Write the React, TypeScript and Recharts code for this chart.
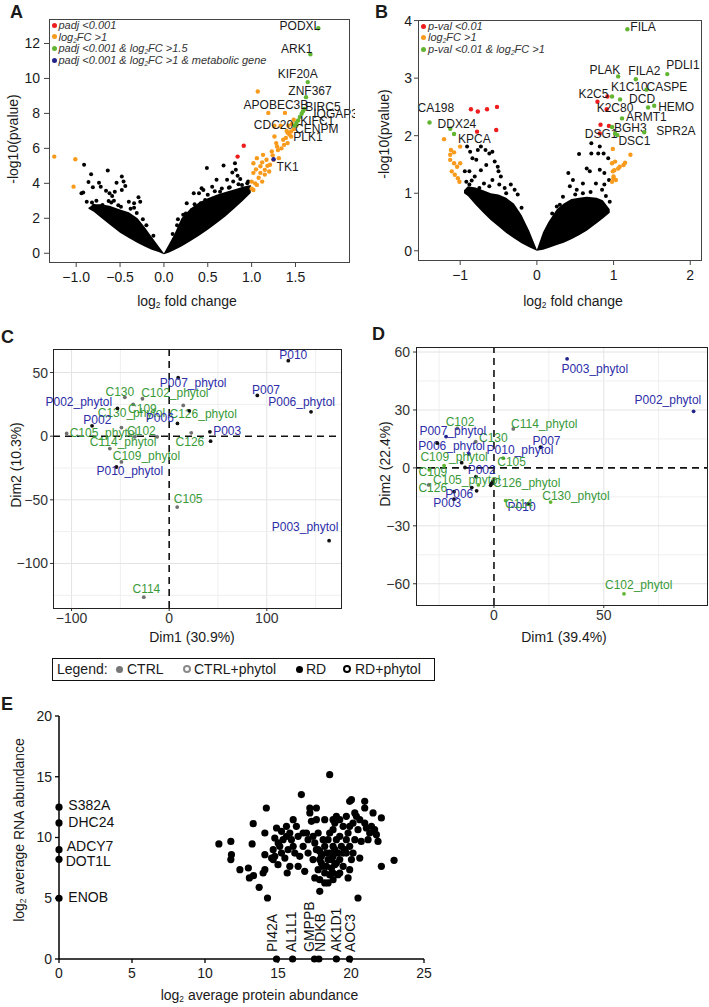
import { ComposedChart, ScatterChart, Scatter, Area, XAxis, YAxis, ReferenceLine } from "recharts";

const FONT = "'Liberation Sans', Arial, Helvetica, sans-serif";
const RED = "#ee1c1c";
const ORANGE = "#f89a1c";
const GREEN = "#62b530";
const NAVY = "#23238e";
const LBL_GREEN = "#3a9a3a";
const LBL_BLUE = "#2d2da8";
const GREY = "#707070";

// ---------- A: RNA volcano ----------
// dense black cloud: [log2FC, low, high]
const A_CLOUD = [
  [-0.86, 2.55, 2.6], [-0.8, 2.38, 2.8], [-0.72, 2.05, 2.8], [-0.62, 1.65, 2.72], [-0.5, 1.18, 2.5],
  [-0.4, 0.88, 2.35], [-0.3, 0.58, 2.0], [-0.22, 0.38, 1.5], [-0.14, 0.2, 0.95], [-0.06, 0.07, 0.4],
  [0, -0.05, 0], [0.06, 0.05, 0.55], [0.12, 0.18, 1.1], [0.2, 0.38, 2.0], [0.3, 0.68, 2.55],
  [0.4, 1.0, 2.9], [0.5, 1.35, 3.15], [0.6, 1.72, 3.35], [0.7, 2.1, 3.5], [0.8, 2.55, 3.65],
  [0.9, 3.0, 3.8], [0.99, 3.45, 3.9],
];
const A_BLACK = [
  [-0.91, 5.06], [-0.83, 4.52], [-0.64, 4.73], [-0.86, 4.08], [-0.81, 3.78], [-0.74, 4.04], [-0.72, 3.81],
  [-0.94, 3.43], [-0.92, 3.47], [-0.88, 2.95], [-0.8, 2.72], [-0.7, 2.76], [-0.66, 3.58], [-0.62, 3.43],
  [-0.59, 3.28], [-0.63, 2.99], [-0.57, 3.0], [-0.48, 4.39], [-0.46, 4.1], [-0.44, 3.85], [-0.54, 4.04],
  [-0.56, 3.52], [-0.48, 3.62], [-0.4, 2.95], [-0.34, 2.86], [-0.29, 3.2], [-0.27, 2.95], [-0.34, 2.6],
  [-0.49, 2.66], [-0.82, 2.9], [-0.77, 3.0], [-0.6, 2.9], [-0.52, 2.75], [-0.38, 2.55], [-0.31, 2.3],
  [-0.24, 1.95], [-0.2, 1.6], [-0.12, 1.0],
  [0.49, 4.87], [0.45, 3.62], [0.4, 3.43], [0.16, 1.94], [0.25, 2.28], [0.32, 2.47], [0.68, 5.02],
  [0.81, 5.15], [0.82, 4.77], [0.84, 4.43], [0.78, 4.62], [0.72, 4.2], [0.6, 4.2], [0.55, 3.81],
  [0.43, 3.72], [0.34, 3.43], [0.47, 3.05], [0.64, 3.52], [0.75, 3.78], [0.79, 4.1], [0.89, 3.91],
  [0.93, 3.66], [0.96, 4.1], [0.87, 4.25], [0.26, 2.86], [0.42, 2.86], [0.1, 1.1], [0.15, 1.6],
  [0.22, 2.2], [0.35, 2.8], [0.5, 3.35], [0.58, 3.55], [0.66, 3.7], [0.74, 3.75], [0.85, 3.95], [0.95, 4.0],
];
const A_ORANGE = [
  [-1.25, 5.53], [-1.01, 5.38], [-1.03, 3.81],
  [1.07, 9.25], [1.19, 8.03], [1.38, 8.03], [1.33, 7.3], [1.42, 7.3], [1.48, 7.64], [1.45, 6.97],
  [1.41, 6.9], [1.36, 6.49], [1.26, 6.68], [1.29, 6.11], [1.34, 6.0], [1.23, 5.82], [1.13, 5.63],
  [1.06, 5.44], [1.17, 5.35], [1.02, 5.15], [1.1, 4.98], [1.15, 4.77], [1.21, 5.06], [1.02, 4.6],
  [1.08, 4.32], [1.15, 4.5], [1.2, 4.68], [1.0, 4.1], [1.06, 3.91], [1.02, 3.62], [1.12, 4.1],
  [1.25, 5.35], [1.31, 5.44], [1.41, 6.3], [1.45, 6.68], [1.48, 7.1], [1.51, 7.3], [1.46, 7.4],
  [1.26, 7.3], [1.0, 3.7], [1.04, 4.0], [1.1, 4.6], [1.18, 5.0], [1.24, 5.6], [1.3, 5.9], [1.37, 6.2],
  [1.39, 6.6], [1.43, 6.8], [1.05, 4.8], [1.12, 5.2], [1.28, 6.3], [1.4, 7.0],
];
const A_RED = [[0.91, 6.15], [0.84, 5.53]];
const A_BLUE: [string, number, number][] = [["TK1", 1.25, 5.38]];
const A_GREEN: [string, number, number][] = [
  ["PODXL", 1.76, 12.87], ["ARK1", 1.67, 11.38], ["KIF20A", 1.64, 9.79], ["ZNF367", 1.62, 8.93],
  ["APOBEC3B", 1.6, 8.25], ["BIRC5", 1.585, 8.12], ["IQGAP3", 1.57, 7.98], ["KIFC1", 1.55, 7.8],
  ["CENPM", 1.53, 7.6], ["PLK1", 1.51, 7.45], ["CDC20", 1.49, 7.3],
];
const A_XTICKS = [-1, -0.5, 0, 0.5, 1, 1.5];
const A_YTICKS = [0, 2, 4, 6, 8, 10, 12];

// ---------- B: protein volcano ----------
const B_CLOUD = [
  [-0.95, 1.0, 1.05], [-0.9, 0.95, 1.12], [-0.8, 0.8, 1.1], [-0.7, 0.66, 1.05], [-0.6, 0.53, 1.0],
  [-0.5, 0.42, 0.98], [-0.4, 0.31, 0.92], [-0.3, 0.22, 0.82], [-0.2, 0.13, 0.62], [-0.1, 0.06, 0.35],
  [0, 0, 0.02], [0.08, 0.02, 0.32], [0.15, 0.05, 0.5], [0.26, 0.1, 0.72], [0.35, 0.14, 0.82],
  [0.45, 0.2, 0.9], [0.55, 0.27, 0.92], [0.65, 0.35, 0.94], [0.78, 0.48, 0.92], [0.86, 0.56, 0.88],
  [0.95, 0.66, 0.72],
];
const B_BLACK = [
  [-0.91, 1.81], [-0.87, 1.72], [-0.77, 1.75], [-0.73, 1.81], [-0.67, 1.75], [-0.62, 1.69], [-0.58, 1.72],
  [-0.84, 1.61], [-0.79, 1.58], [-0.88, 1.38], [-0.94, 1.38], [-0.81, 1.29], [-0.73, 1.4], [-0.66, 1.49],
  [-0.55, 1.55], [-0.5, 1.38], [-0.58, 1.23], [-0.49, 1.15], [-0.42, 1.09], [-0.34, 1.15], [-0.29, 1.06],
  [-0.25, 0.98], [-0.47, 1.29], [-0.69, 1.17], [-0.75, 1.09], [-0.88, 1.15], [-0.51, 1.46], [-0.92, 1.2],
  [-0.85, 1.22], [-0.62, 1.12], [-0.4, 1.0], [-0.2, 0.75],
  [0.71, 1.87], [0.82, 1.81], [0.71, 1.69], [0.8, 1.69], [0.55, 1.68], [0.93, 1.61], [0.87, 1.69],
  [0.65, 1.43], [0.69, 1.38], [0.82, 1.41], [0.88, 1.35], [0.41, 1.35], [0.47, 1.23], [0.6, 1.17],
  [0.77, 1.17], [0.88, 1.15], [0.43, 1.12], [0.34, 0.94], [0.52, 1.06], [0.85, 1.06], [0.94, 1.23],
  [0.26, 0.77], [0.2, 0.65], [0.3, 0.8], [0.5, 0.98], [0.6, 1.0], [0.7, 1.02], [0.9, 0.95], [0.95, 0.85],
];
const B_ORANGE = [
  [-1.21, 1.94], [-1.0, 1.81], [-1.12, 1.75], [-1.13, 1.67], [-1.08, 1.71], [-1.13, 1.58], [-1.08, 1.52],
  [-1.04, 1.46], [-1.0, 1.52], [-1.11, 1.38], [-1.07, 1.32], [-1.03, 1.26], [-1.01, 1.2],
  [0.99, 1.77], [1.22, 1.67], [0.98, 1.52], [1.02, 1.55], [1.08, 1.46], [1.13, 1.49], [1.15, 1.53],
  [1.06, 1.43], [0.99, 1.38], [1.01, 1.4], [1.0, 1.26], [1.03, 1.23], [0.98, 1.2], [1.0, 1.29],
];
const B_RED: [string, number, number][] = [
  ["", -0.86, 2.46], ["", -0.77, 2.42], ["", -0.65, 2.46], ["", -0.52, 2.5], ["", -0.78, 2.07], ["", -0.53, 2.1],
  ["K2C5", 0.92, 2.68], ["", 0.79, 2.59], ["K2C80", 0.91, 2.46], ["", 0.83, 2.19], ["", 0.94, 2.17], ["DSG1", 0.82, 2.04],
];
const B_GREEN: [string, number, number][] = [
  ["CA198", -1.4, 2.23], ["DDX24", -1.13, 2.12], ["KPCA", -1.08, 2.03], ["FILA", 1.18, 3.85],
  ["PLAK", 1.06, 3.03], ["FILA2", 1.29, 2.98], ["PDLI1", 1.7, 3.07], ["K1C10", 0.98, 2.68],
  ["CASPE", 1.43, 2.8], ["DCD", 1.085, 2.63], ["", 1.45, 2.49], ["HEMO", 1.53, 2.52],
  ["ARMT1", 1.11, 2.3], ["BGH3", 0.98, 2.15], ["", 1.02, 2.04], ["DSC1", 1.05, 2.01], ["SPR2A", 1.4, 2.06],
];
const B_XTICKS = [-1, 0, 1, 2];
const B_YTICKS = [0, 1, 2, 3, 4];

// ---------- C: PCA (RNA) ----------
const C_RD: [string, number, number][] = [
  ["P010", 122, 59.3], ["P007", 90.3, 32], ["P006_phytol", 145.3, 19.1], ["P003_phytol", 163.8, -82.1],
  ["P003", 41.7, 3.4], ["P006", 8.5, 10], ["P007_phytol", 9.2, 45.9], ["P002_phytol", -53, 21.8],
  ["P002", -79, 8.1], ["P010_phytol", -54, -24.2], ["", 42.4, -3.9], ["", 20.5, 19.9],
];
const C_CTRL: [string, number, number][] = [
  ["C130", -45.4, 30.5], ["C102_phytol", -27.4, 29.4], ["C109", -36.9, 25], ["C130_phytol", -48.9, 6.8],
  ["C126_phytol", 14.4, 24.2], ["C105_phytol", -105, 2.1], ["C102", -35.2, -0.5], ["C114_phytol", -60.8, -9.7],
  ["C109_phytol", -48.9, -20.2], ["C126", 22.6, 2.6], ["C105", 8.2, -55.7], ["C114", -26, -126.5], ["", -12.3, -0.5],
];
const C_XTICKS = [-100, 0, 100];
const C_YTICKS = [-100, -50, 0, 50];
const C_GRID_X = [-100, -50, 50, 100, 150];
const C_GRID_Y = [-125, -100, -75, -50, -25, 25, 50];

// ---------- D: PCA (protein) ----------
const D_PTS: [string, number, number][] = [
  ["P003_phytol", 33.3, 56.5], ["P002_phytol", 90.9, 29.3], ["C102_phytol", 59.2, -65.2], ["C130_phytol", 25.8, -17.7],
  ["P010", 15.6, -18.6], ["C114_phytol", 8.8, 20.2], ["P007", 21.2, 10.7], ["P010_phytol", -0.5, -7],
  ["C130", -8.3, 13.6], ["C105", 4.2, 5.0], ["C102", -16.7, 20.5], ["P007_phytol", -21.8, 16.2],
  ["P006_phytol", -11.4, 7.2], ["C109_phytol", -22.7, 1.2], ["C109", -29.5, -1], ["C126", -29.7, -8.8],
  ["P003", -18.2, -16.2], ["P006", -18.2, -12.3], ["P002", -8.2, -4.5], ["C105_phytol", -7.1, -8.8],
  ["C126_phytol", -1, -7.9], ["C114", 5.3, -16.9], ["", -25.8, 12.8], ["", -14.7, 2.7], ["", -13.2, 0.2],
  ["", -10.1, -10.2], ["", -7.9, -11.9], ["", -1.5, -9],
];
const D_XTICKS = [0, 50];
const D_YTICKS = [-60, -30, 0, 30, 60];
const D_GRID_X = [-25, 25, 50, 75];
const D_GRID_Y = [-60, -45, -30, -15, 15, 30, 45, 60];

// ---------- E: protein vs RNA abundance ----------
const E_NO_PROTEIN: [string, number, number][] = [
  ["S382A", 0, 12.5], ["DHC24", 0, 11.2], ["ADCY7", 0, 9.0], ["DOT1L", 0, 8.2], ["ENOB", 0, 5.0],
];
const E_NO_RNA: [string, number, number][] = [
  ["PI42A", 14.9, 0], ["AL1L1", 16.0, 0], ["GMPPB", 17.5, 0], ["NDKB", 17.8, 0], ["AK1D1", 19.0, 0], ["AOC3", 19.9, 0],
];
const E_BOTH = [
  [10.95, 9.47], [11.77, 9.68], [11.81, 8.59], [11.77, 8.18], [12.39, 7.35], [12.97, 7.49], [13.04, 6.67],
  [13.32, 6.86], [13.23, 9.47], [13.3, 11.14], [13.71, 5.9], [13.98, 7.08], [14.1, 7.35], [14.2, 12.43],
  [14.1, 10.37], [14.1, 8.59], [14.28, 5.02], [14.67, 9.0], [14.78, 9.96], [14.56, 8.31], [14.9, 10.78],
  [15.12, 9.27], [15.0, 7.76], [15.24, 8.72], [15.35, 9.82], [15.58, 10.92], [15.47, 8.31], [15.69, 9.0],
  [15.81, 7.63], [15.63, 7.08], [15.92, 9.82], [16.04, 11.47], [16.26, 10.92], [16.15, 8.72], [16.38, 7.63],
  [16.49, 8.45], [16.6, 13.53], [16.72, 9.27], [16.83, 7.22], [16.95, 10.37], [17.06, 8.72], [17.18, 12.02],
  [17.29, 11.33], [17.18, 12.43], [17.52, 9.55], [17.4, 8.18], [17.63, 12.43], [17.75, 10.37], [17.52, 6.67],
  [17.86, 8.86], [17.75, 7.35], [17.97, 7.9], [17.86, 5.57], [18.09, 9.82], [18.2, 11.47], [18.32, 8.72],
  [18.2, 7.08], [18.43, 6.26], [18.54, 15.17], [18.54, 10.37], [18.66, 8.18], [18.77, 9.27], [18.77, 7.08],
  [18.89, 11.19], [19.0, 7.9], [19.11, 8.72], [19.23, 11.47], [19.23, 10.1], [19.11, 6.94], [19.34, 9.27],
  [19.46, 10.92], [19.68, 11.74], [19.68, 8.72], [19.8, 10.37], [19.8, 6.67], [19.91, 12.98], [20.03, 13.11],
  [19.91, 7.35], [20.14, 11.19], [20.14, 8.72], [20.26, 9.82], [20.37, 11.74], [20.48, 5.02], [20.6, 8.31],
  [20.48, 10.64], [20.94, 12.98], [20.94, 12.43], [20.94, 11.19], [21.05, 10.78], [21.17, 9.82], [21.51, 12.02],
  [21.62, 10.64], [21.74, 10.23], [21.85, 9.68], [22.08, 11.61], [22.08, 7.63], [22.95, 8.12], [21.4, 10.92],
  [20.7, 9.68], [17.75, 9.0], [17.97, 8.45], [18.09, 7.63], [18.43, 8.18], [18.54, 8.72], [18.66, 7.49],
  [18.89, 9.0], [19.0, 9.82], [18.77, 10.64], [18.43, 9.82], [18.2, 9.27], [17.86, 8.18], [17.63, 9.0],
  [17.4, 10.1], [17.06, 9.82], [16.72, 10.37], [16.38, 10.1], [16.04, 9.27], [15.81, 10.37], [15.58, 10.1],
  [15.24, 10.51], [15.01, 9.55], [14.78, 8.45], [14.67, 8.18], [18.77, 8.45], [19.23, 8.18], [19.46, 7.63],
  [19.57, 9.0], [19.91, 9.27], [20.03, 8.18], [19.68, 9.82], [19.91, 10.92], [19.46, 8.72], [18.89, 7.76],
  [18.54, 6.94], [18.32, 7.63], [19.23, 7.08], [17.86, 6.53], [18.2, 6.26], [18.77, 6.53], [17.63, 11.47],
  [19.0, 11.74], [20.26, 12.02], [20.6, 11.47], [18.77, 11.47], [21.28, 10.37],
];
const E_XTICKS = [0, 5, 10, 15, 20, 25];
const E_YTICKS = [0, 5, 10, 15, 20];

// label placement, relative to the point: [dx, dy, anchor, rotated]
type Spec = [number, number, string?, boolean?];
const A_LABELS: Record<string, Spec> = {
  PODXL: [2, 2, "end"], ARK1: [2, -1, "end"], KIF20A: [-10, -4.5], ZNF367: [4, -1.8],
  APOBEC3B: [4, 0, "end"], BIRC5: [2.3, -0.5, "start"], IQGAP3: [11.6, 4, "start"], KIFC1: [0.4, 8, "start"],
  CENPM: [-3, 12.4, "start"], PLK1: [-3, 17.8, "start"], CDC20: [-1.4, 3.2, "end"], TK1: [3, 11.5, "start"],
};
const B_LABELS: Record<string, Spec> = {
  FILA: [3, 2, "start"], PLAK: [2, -2, "end"], FILA2: [8.5, -4], PDLI1: [-1, -5, "start"],
  K1C10: [-1, -5.5, "start"], CASPE: [0, 1, "start"], K2C5: [1, 1, "end"], K2C80: [-10, 2.4, "start"],
  DCD: [9, 4, "start"], HEMO: [4, 5, "start"], ARMT1: [4, 3, "start"], BGH3: [2, 4.5, "start"],
  DSG1: [-15, 5, "start"], DSC1: [1, 10, "start"], SPR2A: [12, 2.6, "start"],
  CA198: [-12, -10, "start"], DDX24: [-12.6, -1, "start"], KPCA: [4, 9, "start"],
};
const C_LABELS: Record<string, Spec> = {
  P010: [5, -2], P007: [8.7, -1.7], P006_phytol: [-9.4, -5.7], P003_phytol: [-24, -9.3], P003: [17.3, 3.3],
  P006: [-17.6, -1.3], P007_phytol: [15, 8.9], P002_phytol: [-38.6, -2.3], P002: [5.3, -2.1],
  P010_phytol: [13.4, 7.6], C130: [-5, -1.3], C102_phytol: [32.4, -1.7], C109: [9.3, 8.3],
  C130_phytol: [10, -10.3], C126_phytol: [20, 12.3], C105_phytol: [36.7, 3.7], C102: [6.6, -1.7],
  C114_phytol: [13.3, -2.3], C109_phytol: [25, -1.4], C126: [-1.3, 13.3], C105: [11, -3.7], C114: [2.6, -4.1],
};
const D_LABELS: Record<string, Spec> = {
  P003_phytol: [27.7, 13.9], P002_phytol: [-25.7, -7.7], C102_phytol: [14.7, -4.7], C130_phytol: [25.3, -2],
  P010: [-6.6, 7.6], C114_phytol: [31, -0.4], P007: [6, -2.3], P010_phytol: [27.1, -27.9], C130: [17.6, 0.3],
  C105: [8.4, 7.7], C102: [2.7, -2.3], P007_phytol: [6.7, -1.7], P006_phytol: [-17.3, -4], C109_phytol: [10, -4.1],
  C109: [3.7, 6], C126: [4, 7.6], P003: [-6.7, 8.3], P006: [5.3, 5.9], P002: [5.7, -2.4],
  C105_phytol: [-11.6, -0.7], C126_phytol: [35, 3.7], C114: [13.3, 7.3],
};
const D_DOT: Record<string, string> = {
  P003_phytol: NAVY, P002_phytol: NAVY, P007_phytol: NAVY, P006_phytol: NAVY,
  C102_phytol: GREEN, C130_phytol: GREEN, C105: GREEN, C109_phytol: GREEN, C109: GREEN,
  C105_phytol: GREEN, C114: GREEN, C114_phytol: GREY, C130: GREY, C102: GREY, C126: GREY,
};
const E_LABELS: Record<string, Spec> = {
  S382A: [9.3, 2.5, "start"], DHC24: [9.3, 4, "start"], ADCY7: [7.7, 1, "start"], DOT1L: [6.7, 6.3, "start"],
  ENOB: [9.3, 4, "start"], PI42A: [0, -7, "start", true], AL1L1: [3, -7, "start", true],
  GMPPB: [-1, -7, "start", true], NDKB: [6, -7, "start", true], AK1D1: [5, -7, "start", true], AOC3: [5, -7, "start", true],
};

const xy = (rows: number[][]) => rows.map(([x, y]) => ({ name: "", x, y }));
const nxy = (rows: [string, number, number][]) => rows.map(([name, x, y]) => ({ name, x, y }));
const cloud = (rows: number[][]) => rows.map(([x, lo, hi]) => ({ x, lo, hi }));
const minus = (s: string) => s.replace("-", "\u2212");

function dotShape(fill: (n: string) => string, r: number, labels: Record<string, Spec> = {}, labelFill: (n: string) => string = () => "#1a1a1a", fontSize = 12) {
  return (p: any) => {
    const { cx, cy, payload } = p;
    if (typeof cx !== "number" || typeof cy !== "number") return <g />;
    const name: string = payload?.name ?? "";
    const s = labels[name];
    const tx = s ? cx + s[0] : 0;
    const ty = s ? cy + s[1] : 0;
    return (
      <g>
        <circle cx={cx} cy={cy} r={r} fill={fill(name)} />
        {s && (
          <text x={tx} y={ty} textAnchor={(s[2] as any) ?? "middle"} fontSize={fontSize} fontFamily={FONT}
            fill={labelFill(name)} transform={s[3] ? `rotate(-90 ${tx} ${ty})` : undefined}>{name}</text>
        )}
      </g>
    );
  };
}

const TICK = { fontSize: 14, fill: "#1a1a1a", fontFamily: FONT };
const TICK_GG = { fontSize: 14, fill: "#333", fontFamily: FONT };

const abs = (l: number, t: number, extra: any = {}) => ({ position: "absolute" as const, left: l, top: t, ...extra });
const Centered = ({ x, y, rot, size = 14, children }: any) => (
  <div style={abs(x, y, { transform: `translate(-50%, -50%)${rot ? " rotate(-90deg)" : ""}`, whiteSpace: "nowrap", fontSize: size, lineHeight: "16px", color: "#1a1a1a" })}>{children}</div>
);
const Sub2 = () => <sub style={{ fontSize: "0.6em", verticalAlign: "-0.25em", lineHeight: 0 }}>2</sub>;
const Letter = ({ x, y, c }: any) => <div style={abs(x, y, { fontSize: 18, fontWeight: 700, lineHeight: "18px" })}>{c}</div>;
const Frame = ({ l, t, w, h, bw = 1, c = "#333" }: any) => (
  <div style={abs(l, t, { width: w, height: h, border: `${bw}px solid ${c}`, boxSizing: "border-box", pointerEvents: "none" })} />
);
const LegRow = ({ x, y, color, children }: any) => (
  <div style={abs(x, y, { display: "flex", alignItems: "center", fontSize: 11, fontStyle: "italic", color: "#333", whiteSpace: "nowrap", lineHeight: "12px" })}>
    <span style={{ width: 5, height: 5, borderRadius: "50%", background: color, marginRight: 2, display: "inline-block" }} />
    <span>{children}</span>
  </div>
);

function VolcanoA() {
  return (
    <ComposedChart width={355} height={300} data={cloud(A_CLOUD)} margin={{ top: 19, right: 6, bottom: 8, left: 15 }}>
      <XAxis type="number" dataKey="x" domain={[-1.31, 2.11]} ticks={A_XTICKS} interval={0} height={30}
        tickFormatter={(v: number) => minus(v.toFixed(1))} axisLine={false} tickSize={5} tickMargin={5} tick={TICK} tickLine={{ stroke: "#444" }} />
      <YAxis type="number" dataKey="y" domain={[-0.5, 13.4]} ticks={A_YTICKS} interval={0} width={34}
        axisLine={false} tickSize={5} tickMargin={4} tick={TICK} tickLine={{ stroke: "#444" }} />
      <Area dataKey={(d: any) => [d.lo, d.hi]} type="linear" stroke="none" fill="#000" fillOpacity={1} dot={false} activeDot={false} isAnimationActive={false} />
      <Scatter data={xy(A_BLACK)} shape={dotShape(() => "#000", 2)} isAnimationActive={false} />
      <Scatter data={xy(A_ORANGE)} shape={dotShape(() => ORANGE, 2.2)} isAnimationActive={false} />
      <Scatter data={xy(A_RED)} shape={dotShape(() => RED, 2.2)} isAnimationActive={false} />
      <Scatter data={nxy(A_BLUE)} shape={dotShape(() => NAVY, 2.2, A_LABELS)} isAnimationActive={false} />
      <Scatter data={nxy(A_GREEN)} shape={dotShape(() => GREEN, 2.2, A_LABELS)} isAnimationActive={false} />
    </ComposedChart>
  );
}

function VolcanoB() {
  return (
    <ComposedChart width={354} height={300} data={cloud(B_CLOUD)} margin={{ top: 20, right: 8, bottom: 10, left: 33 }}>
      <XAxis type="number" dataKey="x" domain={[-1.55, 2.14]} ticks={B_XTICKS} interval={0} height={30}
        tickFormatter={(v: number) => minus(String(v))} axisLine={false} tickSize={5} tickMargin={5} tick={TICK} tickLine={{ stroke: "#444" }} />
      <YAxis type="number" dataKey="y" domain={[-0.16, 4.01]} ticks={B_YTICKS} interval={0} width={30}
        axisLine={false} tickSize={4} tickMargin={2} tick={TICK} tickLine={{ stroke: "#444" }} />
      <Area dataKey={(d: any) => [d.lo, d.hi]} type="linear" stroke="none" fill="#000" fillOpacity={1} dot={false} activeDot={false} isAnimationActive={false} />
      <Scatter data={xy(B_BLACK)} shape={dotShape(() => "#000", 2)} isAnimationActive={false} />
      <Scatter data={xy(B_ORANGE)} shape={dotShape(() => ORANGE, 2.2)} isAnimationActive={false} />
      <Scatter data={nxy(B_RED)} shape={dotShape(() => RED, 2.2, B_LABELS)} isAnimationActive={false} />
      <Scatter data={nxy(B_GREEN)} shape={dotShape(() => GREEN, 2.2, B_LABELS)} isAnimationActive={false} />
    </ComposedChart>
  );
}

const isRD = (n: string) => n.startsWith("P");

function PcaC() {
  return (
    <ScatterChart width={355} height={330} margin={{ top: 39, right: 14, bottom: 7, left: 13 }}>
      <XAxis type="number" dataKey="x" domain={[-119, 176]} ticks={C_XTICKS} interval={0} height={25}
        tickFormatter={(v: number) => minus(String(v))} axisLine={false} tickSize={3} tickMargin={2} tick={TICK_GG} tickLine={{ stroke: "#333" }} />
      <YAxis type="number" dataKey="y" domain={[-135, 68.5]} ticks={C_YTICKS} interval={0} width={40}
        tickFormatter={(v: number) => minus(String(v))} axisLine={false} tickSize={3} tickMargin={2} tick={TICK_GG} tickLine={{ stroke: "#333" }} />
      {C_GRID_X.map((v) => <ReferenceLine key={"gx" + v} x={v} stroke={v % 100 === 0 ? "#e3e3e3" : "#efefef"} strokeWidth={1} />)}
      {C_GRID_Y.map((v) => <ReferenceLine key={"gy" + v} y={v} stroke={v % 50 === 0 ? "#e3e3e3" : "#efefef"} strokeWidth={1} />)}
      <ReferenceLine x={0} stroke="#111" strokeWidth={1.6} strokeDasharray="7 5" />
      <ReferenceLine y={0} stroke="#111" strokeWidth={1.6} strokeDasharray="7 5" />
      <Scatter data={nxy(C_CTRL)} shape={dotShape(() => GREY, 1.9, C_LABELS, () => LBL_GREEN)} isAnimationActive={false} />
      <Scatter data={nxy(C_RD)} shape={dotShape(() => "#111", 1.9, C_LABELS, () => LBL_BLUE)} isAnimationActive={false} />
    </ScatterChart>
  );
}

function PcaD() {
  return (
    <ScatterChart width={354} height={330} margin={{ top: 37, right: 2, bottom: 10, left: 26 }}>
      <XAxis type="number" dataKey="x" domain={[-35.5, 97]} ticks={D_XTICKS} interval={0} height={25}
        axisLine={false} tickSize={3} tickMargin={2} tick={TICK_GG} tickLine={{ stroke: "#333" }} />
      <YAxis type="number" dataKey="y" domain={[-71, 62.6]} ticks={D_YTICKS} interval={0} width={35}
        tickFormatter={(v: number) => minus(String(v))} axisLine={false} tickSize={3} tickMargin={3} tick={TICK_GG} tickLine={{ stroke: "#333" }} />
      {D_GRID_X.map((v) => <ReferenceLine key={"gx" + v} x={v} stroke={v % 50 === 0 ? "#e3e3e3" : "#efefef"} strokeWidth={1} />)}
      {D_GRID_Y.map((v) => <ReferenceLine key={"gy" + v} y={v} stroke={v % 30 === 0 ? "#e3e3e3" : "#efefef"} strokeWidth={1} />)}
      <ReferenceLine x={0} stroke="#111" strokeWidth={1.6} strokeDasharray="7 5" />
      <ReferenceLine y={0} stroke="#111" strokeWidth={1.6} strokeDasharray="7 5" />
      <Scatter data={nxy(D_PTS)} shape={dotShape((n) => D_DOT[n] ?? "#111", 1.9, D_LABELS, (n) => (isRD(n) ? LBL_BLUE : LBL_GREEN))} isAnimationActive={false} />
    </ScatterChart>
  );
}

function AbundanceE() {
  return (
    <ScatterChart width={450} height={317} margin={{ top: 26, right: 26, bottom: 23, left: 19 }}>
      <XAxis type="number" dataKey="x" domain={[0, 25]} ticks={E_XTICKS} interval={0} height={25}
        axisLine={{ stroke: "#000", strokeWidth: 1.5 }} tickSize={4} tickMargin={5} tick={TICK} tickLine={{ stroke: "#000", strokeWidth: 1.3 }} />
      <YAxis type="number" dataKey="y" domain={[0, 20]} ticks={E_YTICKS} interval={0} width={40}
        axisLine={{ stroke: "#000", strokeWidth: 1.5 }} tickSize={4} tickMargin={3} tick={TICK} tickLine={{ stroke: "#000", strokeWidth: 1.3 }} />
      <Scatter data={xy(E_BOTH)} shape={dotShape(() => "#000", 3.6)} isAnimationActive={false} />
      <Scatter data={nxy(E_NO_PROTEIN)} shape={dotShape(() => "#000", 3.6, E_LABELS, () => "#111", 14)} isAnimationActive={false} />
      <Scatter data={nxy(E_NO_RNA)} shape={dotShape(() => "#000", 3.6, E_LABELS, () => "#111", 14)} isAnimationActive={false} />
    </ScatterChart>
  );
}

const Ring = ({ x, color }: any) => (
  <span style={abs(x - 4, 665, { width: 8, height: 8, borderRadius: "50%", border: `2px solid ${color}`, boxSizing: "border-box" })} />
);
const Disc = ({ x, color }: any) => (
  <span style={abs(x - 3.5, 665.5, { width: 7, height: 7, borderRadius: "50%", background: color })} />
);
const LegText = ({ x, children }: any) => (
  <span style={abs(x, 661, { fontSize: 14, lineHeight: "16px", whiteSpace: "nowrap" })}>{children}</span>
);

export default function App() {
  return (
    <div style={abs(0, 0, { width: 709, height: 1007, background: "#fff", fontFamily: FONT, color: "#1a1a1a", overflow: "hidden" })}>
      <div style={abs(0, 0)}><VolcanoA /></div>
      <div style={abs(355, 0)}><VolcanoB /></div>
      <div style={abs(0, 310)}><PcaC /></div>
      <div style={abs(355, 310)}><PcaD /></div>
      <div style={abs(0, 690)}><AbundanceE /></div>

      <Frame l={49} t={19} w={301} h={244} c="#444" />
      <Frame l={418} t={20} w={284} h={241} c="#444" />
      <Frame l={53} t={349} w={289} h={260} bw={1.4} c="#222" />
      <Frame l={416} t={347} w={292} h={259} bw={1.4} c="#222" />

      <Letter x={10} y={2.7} c="A" />
      <Letter x={375} y={2.7} c="B" />
      <Letter x={1} y={328} c="C" />
      <Letter x={372} y={325} c="D" />
      <Letter x={1} y={695} c="E" />

      <LegRow x={51.5} y={19} color={RED}>padj &lt;0.001</LegRow>
      <LegRow x={51.5} y={30.7} color={ORANGE}>log<Sub2 />FC &gt;1</LegRow>
      <LegRow x={51.5} y={42.3} color={GREEN}>padj &lt;0.001 &amp; log<Sub2 />FC &gt;1.5</LegRow>
      <LegRow x={51.5} y={54} color={NAVY}>padj &lt;0.001 &amp; log<Sub2 />FC &gt;1 &amp; metabolic gene</LegRow>

      <LegRow x={421} y={20} color={RED}>p-val &lt;0.01</LegRow>
      <LegRow x={421} y={31.3} color={ORANGE}>log<Sub2 />FC &gt;1</LegRow>
      <LegRow x={421} y={43.3} color={GREEN}>p-val &lt;0.01 &amp; log<Sub2 />FC &gt;1</LegRow>

      <Centered x={12.5} y={138.5} rot>-log10(pvalue)</Centered>
      <Centered x={187} y={301}>log<Sub2 /> fold change</Centered>
      <Centered x={384} y={134} rot>-log10(pvalue)</Centered>
      <Centered x={573} y={301}>log<Sub2 /> fold change</Centered>
      <Centered x={15.5} y={465} rot>Dim2 (10.3%)</Centered>
      <Centered x={192} y={637}>Dim1 (30.9%)</Centered>
      <Centered x={384.5} y={464} rot>Dim2 (22.4%)</Centered>
      <Centered x={564} y={637}>Dim1 (39.4%)</Centered>
      <Centered x={19} y={830} rot>log<Sub2 /> average RNA abundance</Centered>
      <Centered x={259.5} y={995}>log<Sub2 /> average protein abundance</Centered>

      <div style={abs(52, 658, { width: 383, height: 23, border: "1.5px solid #111", boxSizing: "border-box" })} />
      <LegText x={57}>Legend:</LegText>
      <Disc x={119} color="#777" />
      <LegText x={127}>CTRL</LegText>
      <Ring x={187} color="#8a8a8a" />
      <LegText x={194}>CTRL+phytol</LegText>
      <Disc x={299} color="#000" />
      <LegText x={306}>RD</LegText>
      <Ring x={347} color="#000" />
      <LegText x={355}>RD+phytol</LegText>
    </div>
  );
}
